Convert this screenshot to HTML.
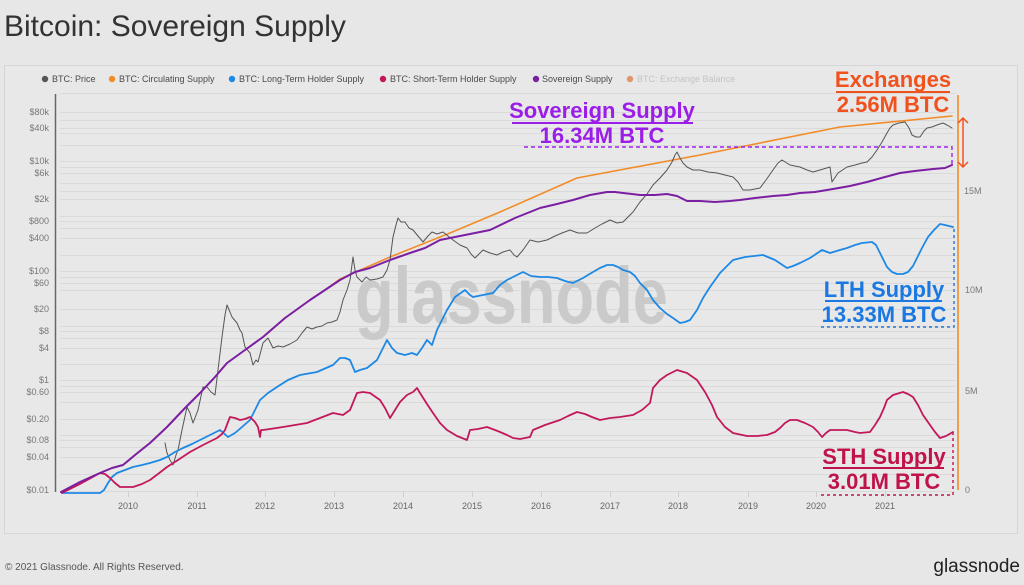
<!DOCTYPE html>
<html><head><meta charset="utf-8"><style>
html,body{margin:0;padding:0;background:#e7e7e7;}
svg{display:block;font-family:"Liberation Sans",Arial,sans-serif;}
</style></head><body>
<svg width="1024" height="585" viewBox="0 0 1024 585" xmlns="http://www.w3.org/2000/svg">
<rect x="0" y="0" width="1024" height="585" fill="#e7e7e7"/>
<text x="4" y="36" font-size="30" fill="#333">Bitcoin: Sovereign Supply</text>
<rect x="4.5" y="65.5" width="1013" height="468" fill="#e8e8e8" stroke="#d6d6d6" stroke-width="1"/>

<!-- legend -->
<g font-size="9" fill="#4a4a4a">
<circle cx="45" cy="79" r="3.2" fill="#555"/><text x="52" y="82">BTC: Price</text>
<circle cx="112" cy="79" r="3.2" fill="#f28c28"/><text x="119" y="82">BTC: Circulating Supply</text>
<circle cx="232" cy="79" r="3.2" fill="#1e88e5"/><text x="239" y="82">BTC: Long-Term Holder Supply</text>
<circle cx="383" cy="79" r="3.2" fill="#c2185b"/><text x="390" y="82">BTC: Short-Term Holder Supply</text>
<circle cx="536" cy="79" r="3.2" fill="#7b1fa2"/><text x="542" y="82">Sovereign Supply</text>
<circle cx="630" cy="79" r="3.2" fill="#e0743a" opacity="0.7"/><text x="637" y="82" fill="#c4c4c4">BTC: Exchange Balance</text>
</g>

<!-- gridlines -->
<g stroke="#dadada" stroke-width="1">
<line x1="60" y1="93.5" x2="955" y2="93.5"/>
<line x1="60" y1="112.5" x2="955" y2="112.5"/>
<line x1="60" y1="120.5" x2="955" y2="120.5"/>
<line x1="60" y1="128.5" x2="955" y2="128.5"/>
<line x1="60" y1="133.5" x2="955" y2="133.5"/>
<line x1="60" y1="145.5" x2="955" y2="145.5"/>
<line x1="60" y1="161.5" x2="955" y2="161.5"/>
<line x1="60" y1="167.5" x2="955" y2="167.5"/>
<line x1="60" y1="173.5" x2="955" y2="173.5"/>
<line x1="60" y1="183.5" x2="955" y2="183.5"/>
<line x1="60" y1="191.5" x2="955" y2="191.5"/>
<line x1="60" y1="199.5" x2="955" y2="199.5"/>
<line x1="60" y1="216.5" x2="955" y2="216.5"/>
<line x1="60" y1="221.5" x2="955" y2="221.5"/>
<line x1="60" y1="228.5" x2="955" y2="228.5"/>
<line x1="60" y1="238.5" x2="955" y2="238.5"/>
<line x1="60" y1="255.5" x2="955" y2="255.5"/>
<line x1="60" y1="271.5" x2="955" y2="271.5"/>
<line x1="60" y1="277.5" x2="955" y2="277.5"/>
<line x1="60" y1="283.5" x2="955" y2="283.5"/>
<line x1="60" y1="290.5" x2="955" y2="290.5"/>
<line x1="60" y1="309.5" x2="955" y2="309.5"/>
<line x1="60" y1="326.5" x2="955" y2="326.5"/>
<line x1="60" y1="331.5" x2="955" y2="331.5"/>
<line x1="60" y1="338.5" x2="955" y2="338.5"/>
<line x1="60" y1="348.5" x2="955" y2="348.5"/>
<line x1="60" y1="364.5" x2="955" y2="364.5"/>
<line x1="60" y1="380.5" x2="955" y2="380.5"/>
<line x1="60" y1="386.5" x2="955" y2="386.5"/>
<line x1="60" y1="392.5" x2="955" y2="392.5"/>
<line x1="60" y1="402.5" x2="955" y2="402.5"/>
<line x1="60" y1="419.5" x2="955" y2="419.5"/>
<line x1="60" y1="435.5" x2="955" y2="435.5"/>
<line x1="60" y1="440.5" x2="955" y2="440.5"/>
<line x1="60" y1="447.5" x2="955" y2="447.5"/>
<line x1="60" y1="457.5" x2="955" y2="457.5"/>
<line x1="60" y1="474.5" x2="955" y2="474.5"/>
<line x1="60" y1="491.5" x2="955" y2="491.5"/>
</g>
<!-- x ticks -->
<g stroke="#cfcfcf" stroke-width="1">
<line x1="128.5" y1="491" x2="128.5" y2="497"/><line x1="197.5" y1="491" x2="197.5" y2="497"/>
<line x1="265.5" y1="491" x2="265.5" y2="497"/><line x1="334.5" y1="491" x2="334.5" y2="497"/>
<line x1="403.5" y1="491" x2="403.5" y2="497"/><line x1="472.5" y1="491" x2="472.5" y2="497"/>
<line x1="541.5" y1="491" x2="541.5" y2="497"/><line x1="610.5" y1="491" x2="610.5" y2="497"/>
<line x1="678.5" y1="491" x2="678.5" y2="497"/><line x1="748.5" y1="491" x2="748.5" y2="497"/>
<line x1="816.5" y1="491" x2="816.5" y2="497"/><line x1="885.5" y1="491" x2="885.5" y2="497"/>
</g>

<!-- watermark -->
<text x="355" y="323" font-size="80" font-weight="bold" fill="#cacaca" textLength="313" lengthAdjust="spacingAndGlyphs">glassnode</text>

<!-- left axis -->
<line x1="55.5" y1="94" x2="55.5" y2="492" stroke="#666" stroke-width="1.5"/>
<g font-size="9" fill="#777" text-anchor="end">
<text x="49" y="115">$80k</text><text x="49" y="131">$40k</text>
<text x="49" y="164">$10k</text><text x="49" y="176">$6k</text>
<text x="49" y="202">$2k</text><text x="49" y="224">$800</text>
<text x="49" y="241">$400</text><text x="49" y="274">$100</text>
<text x="49" y="286">$60</text><text x="49" y="312">$20</text>
<text x="49" y="334">$8</text><text x="49" y="351">$4</text>
<text x="49" y="383">$1</text><text x="49" y="395">$0.60</text>
<text x="49" y="422">$0.20</text><text x="49" y="443">$0.08</text>
<text x="49" y="460">$0.04</text><text x="49" y="493">$0.01</text>
</g>
<!-- right axis -->
<g font-size="9" fill="#777">
<text x="964" y="194">15M</text><text x="965" y="293">10M</text>
<text x="965" y="394">5M</text><text x="965" y="493">0</text>
</g>
<!-- x labels -->
<g font-size="9" fill="#666" text-anchor="middle">
<text x="128" y="509">2010</text><text x="197" y="509">2011</text><text x="265" y="509">2012</text>
<text x="334" y="509">2013</text><text x="403" y="509">2014</text><text x="472" y="509">2015</text>
<text x="541" y="509">2016</text><text x="610" y="509">2017</text><text x="678" y="509">2018</text>
<text x="748" y="509">2019</text><text x="816" y="509">2020</text><text x="885" y="509">2021</text>
</g>

<!-- series -->
<g fill="none" stroke-linejoin="round" stroke-linecap="round">
<polyline stroke="#f28c28" stroke-width="1.6" points="61,492 80,482 100,473 112,468 123,465 135,455 150,443 167,427 185,408 200,393 215,377 227,363 245,350 263,337 285,318 310,300 325,290 340,279 390,257 450,233 500,212 577,178 700,155 840,127 952,116"/>
<polyline stroke="#555" stroke-width="1" points="165,443 167,453 170,460 173,465 176,455 178,450 182,430 187,407 190,413 193,423 198,410 203,387 207,387 211,392 215,395 218,370 222,337 225,315 227,305 230,312 232,317 237,323 240,330 242,333 245,347 250,353 253,365 256,360 258,362 263,343 268,338 273,348 278,346 283,347 290,344 297,340 302,333 307,327 312,329 317,327 322,326 327,323 332,322 337,320 340,312 343,300 347,290 350,280 353,257 355,270 357,277 362,282 366,277 370,280 377,279 383,277 387,270 390,260 393,237 396,225 398,218 401,222 405,222 409,228 413,230 418,236 423,242 428,236 432,232 437,234 443,232 448,236 453,240 460,245 467,248 471,254 475,258 479,254 483,250 490,253 497,255 503,252 510,250 514,255 517,257 523,250 530,240 538,242 547,240 555,236 562,233 570,230 578,233 587,233 595,228 602,224 610,220 617,223 623,222 628,217 633,212 640,202 647,194 653,185 660,178 667,170 672,162 675,155 677,152 680,158 683,163 687,167 693,170 700,170 708,172 717,173 725,175 733,177 738,182 743,190 750,190 760,188 766,180 773,170 778,163 782,160 790,165 800,167 807,170 813,172 820,170 830,167 832,182 838,173 847,167 855,165 862,163 867,162 872,157 877,150 882,142 887,133 890,128 893,125 899,123 905,122 909,128 912,135 916,137 920,137 924,131 927,128 932,127 937,125 943,123 947,125 952,128"/>
<polyline stroke="#1e88e5" stroke-width="1.8" points="62,493 100,493 104,490 108,483 112,477 117,473 125,470 133,467 142,465 150,463 160,460 167,457 175,452 183,448 192,444 200,440 210,435 220,430 228,437 235,433 242,427 250,420 255,410 260,400 268,393 277,387 288,380 300,375 317,372 333,365 340,358 345,358 350,360 355,372 360,370 367,368 372,364 377,360 382,350 387,340 392,348 397,353 405,355 412,353 417,355 422,348 427,340 432,345 437,330 447,310 455,297 465,290 470,295 473,297 483,295 493,293 500,285 507,280 515,276 523,272 531,276 540,277 548,277 557,278 565,281 573,283 583,278 593,272 600,268 607,265 613,265 618,267 623,270 630,272 635,276 640,283 647,290 653,300 660,308 667,314 673,318 680,323 685,322 690,320 697,310 703,298 710,287 720,273 733,260 745,257 763,255 775,260 787,268 793,266 800,263 810,258 822,250 830,253 840,250 847,248 855,245 862,243 872,242 876,245 880,253 887,267 892,272 897,274 903,274 908,272 913,266 917,258 922,248 928,237 934,230 940,224 945,225 953,227"/>
<polyline stroke="#c2185b" stroke-width="1.8" points="62,493 80,484 100,473 105,474 110,478 115,483 120,487 133,487 142,484 150,480 158,474 167,467 178,460 190,452 203,445 217,438 222,434 225,430 228,422 230,417 235,418 240,420 245,419 250,417 255,422 258,427 260,437 261,430 263,430 270,429 283,427 295,425 307,423 320,418 333,413 343,415 350,410 357,393 363,392 370,393 380,400 385,408 390,418 395,410 400,402 407,395 413,392 417,388 420,393 427,404 433,413 440,423 447,430 457,436 467,440 470,430 478,429 487,427 495,430 500,432 507,435 513,438 520,439 530,437 533,430 545,425 560,420 568,416 577,412 585,414 592,417 600,420 610,418 620,417 633,415 642,410 650,403 653,388 660,380 667,375 677,370 687,373 697,380 705,392 712,405 717,417 725,427 733,433 747,436 757,436 767,435 775,432 780,428 785,423 790,420 797,420 805,423 813,427 818,432 822,437 826,433 830,430 840,430 847,430 855,432 860,433 870,432 875,425 880,417 884,408 887,400 893,395 903,392 908,394 913,397 918,405 923,415 930,425 935,432 940,438 946,436 953,432"/>
<polyline stroke="#7b1fa2" stroke-width="2" points="61,492 80,482 100,473 112,468 123,465 135,455 150,443 167,427 185,408 200,393 215,377 227,363 245,350 263,337 285,318 310,300 325,290 340,280 355,272 370,268 380,264 390,260 410,253 425,248 440,240 465,235 490,230 515,218 540,208 557,204 573,200 590,195 607,192 615,192 623,193 632,194 640,195 655,195 667,194 677,196 687,201 700,201 715,202 730,201 740,200 755,198 773,196 787,195 800,193 815,192 833,189 850,186 867,182 885,177 900,173 915,171 933,169 945,168 952,165"/>
</g>

<!-- right orange axis line -->
<line x1="958" y1="95" x2="958" y2="490" stroke="#f28c28" stroke-width="1.6"/>

<!-- annotations -->
<g font-weight="bold" font-size="22" text-anchor="middle">
<text x="602" y="118" fill="#9b1de8">Sovereign Supply</text>
<text x="602" y="143" fill="#9b1de8">16.34M BTC</text>
<text x="893" y="87" fill="#f0521e">Exchanges</text>
<text x="893" y="112" fill="#f0521e">2.56M BTC</text>
<text x="884" y="297" fill="#1a78e0">LTH Supply</text>
<text x="884" y="322" fill="#1a78e0">13.33M BTC</text>
<text x="884" y="464" fill="#c0134a">STH Supply</text>
<text x="884" y="489" fill="#c0134a">3.01M BTC</text>
</g>
<line x1="512" y1="123" x2="693" y2="123" stroke="#9b1de8" stroke-width="2"/>
<line x1="836" y1="92" x2="950" y2="92" stroke="#f0521e" stroke-width="2"/>
<line x1="825" y1="301" x2="942" y2="301" stroke="#1a78e0" stroke-width="2"/>
<line x1="823" y1="468" x2="944" y2="468" stroke="#c0134a" stroke-width="2"/>

<path d="M524,147 H952 V167" fill="none" stroke="#a020f0" stroke-width="1.4" stroke-dasharray="4,3"/>
<path d="M821,327 H954 V228" fill="none" stroke="#1a78e0" stroke-width="1.4" stroke-dasharray="3,3"/>
<path d="M821,495 H953 V432" fill="none" stroke="#c0134a" stroke-width="1.4" stroke-dasharray="3,3"/>

<g stroke="#f0521e" stroke-width="1.5" fill="none">
<line x1="963" y1="118" x2="963" y2="167"/>
<polyline points="958,123 963,118 968,123"/>
<polyline points="958,162 963,167 968,162"/>
</g>

<!-- footer -->
<text x="5" y="570" font-size="10" fill="#555">© 2021 Glassnode. All Rights Reserved.</text>
<text x="1020" y="572" font-size="19" fill="#222" text-anchor="end">glassnode</text>
</svg>
</body></html>
